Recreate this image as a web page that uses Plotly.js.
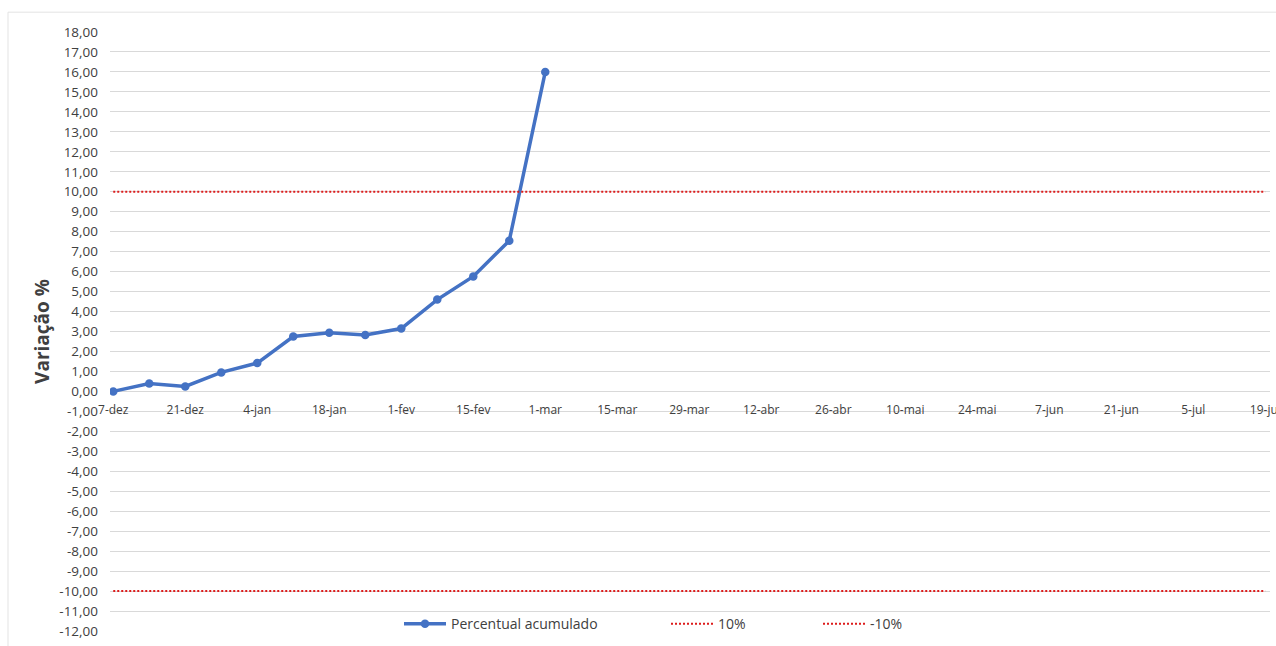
<!DOCTYPE html>
<html>
<head>
<meta charset="utf-8">
<script src="https://cdn.plot.ly/plotly-3.0.1.min.js"></script>
<style>
  html, body { margin: 0; padding: 0; background: #ffffff; }
  #chart { width: 1276px; height: 646px; }
</style>
</head>
<body>
<div id="chart"></div>
<script>
// Weekly categories (x axis)
const categories = ['7-dez','14-dez','21-dez','28-dez','4-jan','11-jan','18-jan','25-jan',
  '1-fev','8-fev','15-fev','22-fev','1-mar','8-mar','15-mar','22-mar','29-mar','5-abr',
  '12-abr','19-abr','26-abr','3-mai','10-mai','17-mai','24-mai','31-mai','7-jun','14-jun',
  '21-jun','28-jun','5-jul','12-jul','19-jul'];

// Labels shown on the x axis (every other week)
const xTickLabels = ['7-dez','21-dez','4-jan','18-jan','1-fev','15-fev','1-mar','15-mar',
  '29-mar','12-abr','26-abr','10-mai','24-mai','7-jun','21-jun','5-jul','19-jul'];

// Series: Percentual acumulado
const percentualAcumulado = [0.00, 0.39, 0.25, 0.95, 1.42, 2.75, 2.94, 2.82, 3.15, 4.60, 5.76, 7.55, 16.00];

// Reference limits
const limitUpper = 10;
const limitLower = -10;

// Y axis ticks
const yTickValues = [18,17,16,15,14,13,12,11,10,9,8,7,6,5,4,3,2,1,0,-1,-2,-3,-4,-5,-6,-7,-8,-9,-10,-11,-12];
const yTickLabels = ['18,00','17,00','16,00','15,00','14,00','13,00','12,00','11,00','10,00','9,00',
  '8,00','7,00','6,00','5,00','4,00','3,00','2,00','1,00','0,00','-1,00','-2,00','-3,00','-4,00',
  '-5,00','-6,00','-7,00','-8,00','-9,00','-10,00','-11,00','-12,00'];

const FONT = 'Open Sans, Noto Sans, sans-serif';
const TXT = '#404040';

const traces = [
  {
    name: 'Percentual acumulado',
    x: categories.slice(0, percentualAcumulado.length),
    y: percentualAcumulado,
    type: 'scatter',
    mode: 'lines+markers',
    line: { color: '#4472C4', width: 3.5 },
    marker: { color: '#4472C4', size: 8.5 },
    legend: 'legend'
  },
  {
    name: '10%',
    x: [categories[0], categories[categories.length - 1]],
    y: [limitUpper, limitUpper],
    type: 'scatter',
    mode: 'lines',
    line: { color: '#dd1c1c', width: 2, dash: '2px,2px' },
    legend: 'legend2'
  },
  {
    name: '-10%',
    x: [categories[0], categories[categories.length - 1]],
    y: [limitLower, limitLower],
    type: 'scatter',
    mode: 'lines',
    line: { color: '#dd1c1c', width: 2, dash: '2px,2px' },
    legend: 'legend3'
  }
];

const PLOT_BOTTOM = 636, PLOT_H = 604;
const legendBase = {
  orientation: 'h',
  yanchor: 'middle',
  xanchor: 'left',
  y: (PLOT_BOTTOM - 629) / PLOT_H,
  bgcolor: 'rgba(0,0,0,0)',
  itemwidth: 42,
  font: { family: FONT, size: 14, color: TXT }
};

const layout = {
  width: 1276,
  height: 646,
  margin: { l: 110, r: 6, t: 32, b: 10 },
  paper_bgcolor: '#ffffff',
  plot_bgcolor: '#ffffff',
  font: { family: FONT, color: TXT },
  showlegend: true,
  xaxis: {
    type: 'category',
    categoryorder: 'array',
    categoryarray: categories,
    range: [-0.09, 32.13],
    tickmode: 'array',
    tickvals: xTickLabels,
    ticktext: xTickLabels,
    showgrid: false,
    zeroline: false,
    showline: false,
    ticks: '',
    ticklabelstandoff: 10,
    anchor: 'free',
    position: 0.4,
    tickfont: { family: FONT, size: 12, color: TXT },
    fixedrange: true
  },
  yaxis: {
    range: [-12, 18],
    tickmode: 'array',
    tickvals: yTickValues,
    ticktext: yTickLabels,
    showgrid: true,
    gridcolor: '#d9d9d9',
    gridwidth: 1,
    zeroline: false,
    showline: false,
    ticks: '',
    ticklabelstandoff: 11,
    tickfont: { family: FONT, size: 13.5, color: TXT },
    title: {
      text: 'Variação %',
      font: { family: FONT, size: 19, color: '#404040', weight: 'bold' },
      standoff: 4
    },
    fixedrange: true
  },
  legend: Object.assign({}, legendBase, { x: (399 - 110) / 1160 }),
  legend2: Object.assign({}, legendBase, { x: (666 - 110) / 1160 }),
  legend3: Object.assign({}, legendBase, { x: (818 - 110) / 1160 }),
  shapes: [
    {
      type: 'rect', xref: 'paper', yref: 'paper',
      x0: (8 - 110) / 1160, x1: 1.02, y0: -0.05, y1: (PLOT_BOTTOM - 12) / PLOT_H,
      line: { color: '#e3e3e3', width: 1 }, fillcolor: 'rgba(0,0,0,0)', layer: 'below'
    }
  ]
};

Plotly.newPlot('chart', traces, layout, { displayModeBar: false, staticPlot: true });
</script>
</body>
</html>
